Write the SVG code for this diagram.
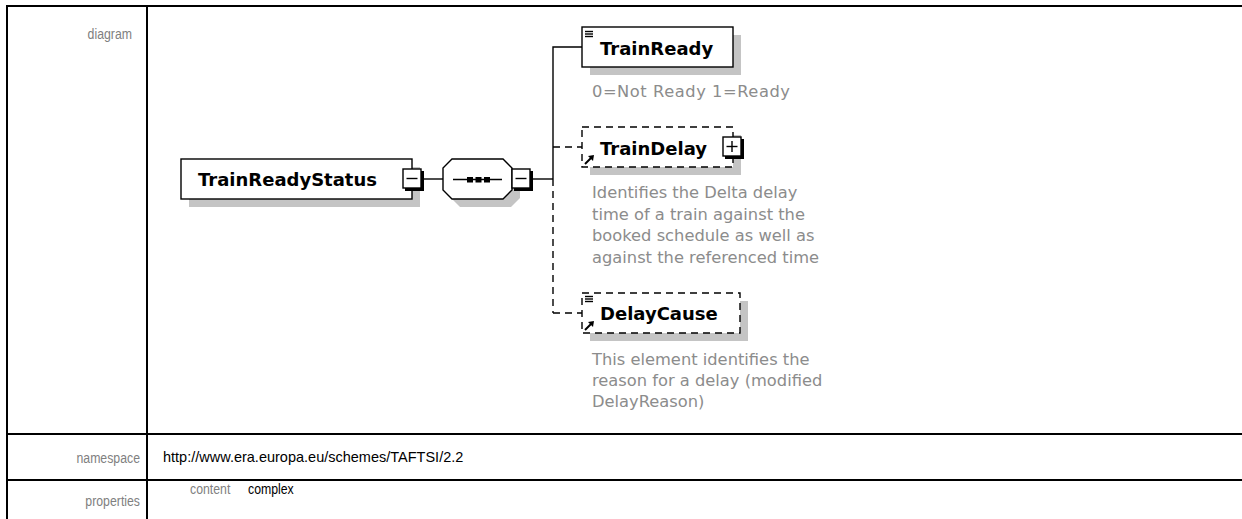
<svg xmlns="http://www.w3.org/2000/svg" width="1242" height="519" viewBox="0 0 1242 519">
<style>
.tbl{stroke:#000;stroke-width:2;fill:none}
.lbl{font-family:"Liberation Sans",Arial,sans-serif;font-size:15px;fill:#808080;text-anchor:end}
.gv{font-family:"Liberation Sans",Arial,sans-serif;font-size:15px;fill:#808080}
.bv{font-family:"Liberation Sans",Arial,sans-serif;font-size:15px;fill:#000}
.val{font-family:"Liberation Sans",Arial,sans-serif;font-size:14.5px;fill:#000}
.name{font-family:"DejaVu Sans",Tahoma,sans-serif;font-weight:bold;font-size:18px;fill:#000}
.ann{font-family:"DejaVu Sans",Tahoma,sans-serif;font-size:16.3px;fill:#8c8c8c}
.box{fill:#fff;stroke:#000;stroke-width:1.4}
.opt{fill:#fff;stroke:#000;stroke-width:1.4;stroke-dasharray:7 5}
.shadow{fill:#c4c4c4}
.line{stroke:#000;stroke-width:1.4;fill:none}
.dash{stroke:#000;stroke-width:1.4;fill:none;stroke-dasharray:7 5}
.btn{fill:#fff;stroke:#000;stroke-width:1.4}
.btnsh{fill:#000}
</style>
<defs>
<g id="minusBtn">
<rect class="btnsh" x="2" y="2" width="19" height="20"/>
<rect class="btn" x="0" y="0" width="18" height="19"/>
<line class="line" x1="3.5" y1="9.5" x2="14.5" y2="9.5"/>
</g>
<g id="plusBtn">
<rect class="btnsh" x="2" y="2" width="19" height="20"/>
<rect class="btn" x="0" y="0" width="18" height="19"/>
<line class="line" x1="3.5" y1="9.5" x2="14.5" y2="9.5"/>
<line class="line" x1="9" y1="4" x2="9" y2="15"/>
</g>
<g id="listIcon">
<line class="line" x1="0" y1="0.5" x2="8" y2="0.5"/>
<line class="line" x1="0" y1="3" x2="8" y2="3"/>
<line class="line" x1="0" y1="5.5" x2="8" y2="5.5"/>
</g>
<g id="refIcon">
<path d="M0,9 L6,3" stroke="#000" stroke-width="2" fill="none"/>
<path d="M9,0 L3,1 L8,6 Z" fill="#000"/>
</g>
</defs>

<g id="table">
<line class="tbl" x1="7" y1="6" x2="1242" y2="6"/>
<line class="tbl" x1="7" y1="5" x2="7" y2="519"/>
<line class="tbl" x1="147" y1="5" x2="147" y2="519"/>
<line class="tbl" x1="7" y1="434" x2="1242" y2="434"/>
<line class="tbl" x1="7" y1="480" x2="1242" y2="480"/>
<text class="lbl" transform="translate(132,39) scale(0.82,1)">diagram</text>
<text class="lbl" transform="translate(140,463) scale(0.82,1)">namespace</text>
<text class="lbl" transform="translate(140,506) scale(0.82,1)">properties</text>
<text class="val" x="163" y="462">http://www.era.europa.eu/schemes/TAFTSI/2.2</text>
<text class="gv" transform="translate(190,494) scale(0.82,1)">content</text>
<text class="bv" transform="translate(248,494) scale(0.82,1)">complex</text>
</g>

<g id="connectors">
<line class="line" x1="423" y1="179" x2="443" y2="179"/>
<line class="line" x1="532" y1="179" x2="553" y2="179"/>
<polyline class="line" points="582,47 553,47 553,179"/>
<line class="dash" x1="553" y1="179" x2="553" y2="313"/>
<line class="dash" x1="553" y1="147" x2="582" y2="147"/>
<line class="dash" x1="553" y1="313" x2="582" y2="313"/>
</g>

<g id="node-TrainReadyStatus">
<rect class="shadow" x="189" y="167" width="231" height="40"/>
<rect class="box" x="181" y="159" width="231" height="40"/>
<text class="name" x="198" y="186">TrainReadyStatus</text>
<use href="#minusBtn" x="403" y="169"/>
</g>

<g id="node-sequence">
<polygon class="shadow" points="460,167 511,167 520,176 520,198 511,207 460,207 451,198 451,176"/>
<polygon class="box" points="452,159 503,159 512,168 512,190 503,199 452,199 443,190 443,168"/>
<line class="line" x1="453" y1="179.5" x2="502" y2="179.5"/>
<rect x="467" y="177" width="6" height="5.5" fill="#000"/>
<rect x="475.5" y="177" width="6" height="5.5" fill="#000"/>
<rect x="484" y="177" width="6" height="5.5" fill="#000"/>
<use href="#minusBtn" x="512" y="169"/>
</g>

<g id="node-TrainReady">
<rect class="shadow" x="590" y="35" width="151" height="40"/>
<rect class="box" x="582" y="27" width="151" height="40"/>
<use href="#listIcon" x="585" y="31"/>
<text class="name" x="600" y="55">TrainReady</text>
<text class="ann" x="592" y="97" textLength="198" lengthAdjust="spacing">0=Not Ready 1=Ready</text>
</g>

<g id="node-TrainDelay">
<rect class="shadow" x="590" y="135" width="151" height="40"/>
<rect class="opt" x="582" y="127" width="151" height="40"/>
<use href="#refIcon" x="585" y="155"/>
<text class="name" x="600" y="155">TrainDelay</text>
<use href="#plusBtn" x="723" y="137"/>
<text class="ann" x="592" y="198">Identifies the Delta delay</text>
<text class="ann" x="592" y="219.5">time of a train against the</text>
<text class="ann" x="592" y="241">booked schedule as well as</text>
<text class="ann" x="592" y="262.5">against the referenced time</text>
</g>

<g id="node-DelayCause">
<rect class="shadow" x="590" y="301" width="158" height="40"/>
<rect class="opt" x="582" y="293" width="158" height="40"/>
<use href="#listIcon" x="585" y="296"/>
<use href="#refIcon" x="585" y="321"/>
<text class="name" x="600" y="320">DelayCause</text>
<text class="ann" x="592" y="365">This element identifies the</text>
<text class="ann" x="592" y="386">reason for a delay (modified</text>
<text class="ann" x="592" y="407">DelayReason)</text>
</g>
</svg>
